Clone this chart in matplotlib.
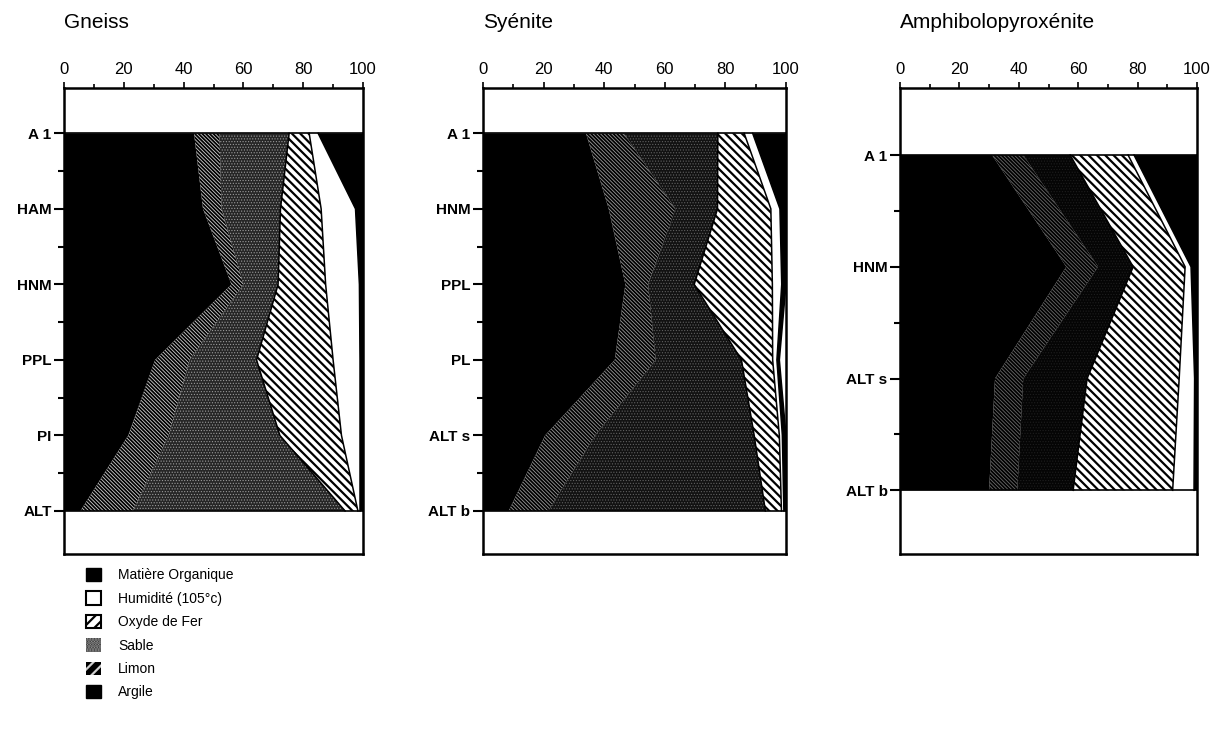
import numpy as np
import matplotlib
matplotlib.use("Agg")
import matplotlib.pyplot as plt
import matplotlib.patches as mpatches
from matplotlib.ticker import MultipleLocator, FixedLocator

plt.rcParams['font.family'] = ['Liberation Sans', 'DejaVu Sans']
plt.rcParams['hatch.linewidth'] = 1.6

# Gneiss profile (% of each fraction, top to bottom)
gneiss_horizons = ["A 1", "HAM", "HNM", "PPL", "PI", "ALT"]
gneiss_argile = [43.5, 46.5, 56.0, 30.5, 21.5, 5.5]
gneiss_limon = [8.5, 6.2, 4.0, 11.5, 13.5, 17.5]
gneiss_sable = [23.3, 19.7, 11.6, 22.4, 37.2, 71.0]
gneiss_oxyde = [6.7, 13.6, 15.9, 25.6, 20.6, 4.3]
gneiss_humidite = [3.0, 11.5, 11.3, 9.0, 6.2, 0.7]
gneiss_mo = [15.0, 2.5, 1.2, 1.0, 1.0, 1.0]

# Syenite profile
syenite_horizons = ["A 1", "HNM", "PPL", "PL", "ALT s", "ALT b"]
syenite_argile = [34.0, 41.5, 47.0, 43.5, 20.5, 8.5]
syenite_limon = [12.5, 22.0, 7.5, 13.5, 16.5, 13.0]
syenite_sable = [31.0, 13.9, 15.2, 28.3, 52.5, 71.7]
syenite_oxyde = [8.7, 17.6, 25.8, 10.3, 8.3, 5.3]
syenite_humidite = [2.8, 3.0, 3.1, 1.4, 1.0, 0.8]
syenite_mo = [11.0, 2.0, 1.4, 0.8, 1.2, 0.7]

# Amphibolopyroxenite profile
amphi_horizons = ["A 1", "HNM", "ALT s", "ALT b"]
amphi_argile = [31.0, 56.0, 32.0, 30.0]
amphi_limon = [10.5, 10.7, 9.5, 9.5]
amphi_sable = [15.8, 11.8, 21.5, 18.8]
amphi_oxyde = [19.5, 17.5, 31.0, 33.5]
amphi_humidite = [2.0, 2.0, 5.2, 7.2]
amphi_mo = [21.2, 2.0, 0.8, 1.0]

profiles = [
    ("Gneiss", gneiss_horizons,
     [gneiss_argile, gneiss_limon, gneiss_sable, gneiss_oxyde, gneiss_humidite, gneiss_mo]),
    ("Syénite", syenite_horizons,
     [syenite_argile, syenite_limon, syenite_sable, syenite_oxyde, syenite_humidite, syenite_mo]),
    ("Amphibolopyroxénite", amphi_horizons,
     [amphi_argile, amphi_limon, amphi_sable, amphi_oxyde, amphi_humidite, amphi_mo]),
]

# how dark the sand stipple / silt lines print in each panel
sable_face = ["#262626", "#121212", "#050505"]
sable_dots = ["#9a9a9a", "#606060", "#1e1e1e"]
limon_lines = ["#d0d0d0", "#9a9a9a", "#6a6a6a"]


def thin_hatch(coll, lw):
    if hasattr(coll, "set_hatch_linewidth"):
        coll.set_hatch_linewidth(lw)


W, H = 1227, 740
fig = plt.figure(figsize=(W / 100, H / 100), dpi=100)

lefts = [64, 483, 900]
widths = [299, 303, 297]
top_px, bot_px = 88, 554

for i, (title, horizons, comps) in enumerate(profiles):
    ax = fig.add_axes([lefts[i] / W, 1 - bot_px / H, widths[i] / W, (bot_px - top_px) / H])
    depth = np.arange(len(horizons))
    cum = np.cumsum(np.array(comps), axis=0)
    lower = np.zeros(len(horizons))

    # argile
    ax.fill_betweenx(depth, lower, cum[0], facecolor="black", linewidth=0)
    # limon: thin light lines on black
    c = ax.fill_betweenx(depth, cum[0], cum[1], facecolor="black", edgecolor=limon_lines[i],
                         hatch="\\" * 9, linewidth=0)
    thin_hatch(c, 0.6)
    # sable: stipple
    c = ax.fill_betweenx(depth, cum[1], cum[2], facecolor=sable_face[i], edgecolor=sable_dots[i],
                         hatch="." * 6, linewidth=0)
    thin_hatch(c, 0.5)
    # oxyde de fer: bold stripes
    c = ax.fill_betweenx(depth, cum[2], cum[3], facecolor="white", edgecolor="black",
                         hatch="\\" * 4, linewidth=0)
    thin_hatch(c, 1.6)
    # humidite: white
    ax.fill_betweenx(depth, cum[3], cum[4], facecolor="white", linewidth=0)
    # matiere organique: black
    ax.fill_betweenx(depth, cum[4], cum[5], facecolor="black", linewidth=0)

    for k in (2, 3, 4, 5):
        ax.plot(cum[k], depth, color="black", lw=1.1)
    ax.plot([0, 100], [depth[0], depth[0]], color="black", lw=1.2)
    ax.plot([0, 100], [depth[-1], depth[-1]], color="black", lw=1.2)

    ax.set_xlim(0, 100)
    ax.set_ylim(len(horizons) - 1 + 0.57, -0.6)

    ax.xaxis.tick_top()
    ax.xaxis.set_major_locator(MultipleLocator(20))
    ax.xaxis.set_minor_locator(FixedLocator([10, 30, 50, 70, 90]))
    ax.tick_params(axis="x", which="major", direction="out", length=4, width=1.2,
                   labelsize=12, pad=4)
    ax.tick_params(axis="x", which="minor", direction="out", length=3, width=1.2)

    ax.set_yticks(depth)
    ax.set_yticklabels(horizons, fontweight="bold")
    ax.yaxis.set_minor_locator(FixedLocator(depth[:-1] + 0.5))
    ax.tick_params(axis="y", which="major", direction="out", length=7, width=1.5,
                   labelsize=11, pad=2)
    ax.tick_params(axis="y", which="minor", direction="out", length=4, width=1.5)

    for s in ax.spines.values():
        s.set_linewidth(1.8)

    fig.text(lefts[i] / W, 1 - 22 / H, title, fontsize=15, ha="left", va="center")

handles = [
    mpatches.Patch(facecolor="black", edgecolor="black", label="Matière Organique"),
    mpatches.Patch(facecolor="white", edgecolor="black", lw=1.5, label="Humidité (105°c)"),
    mpatches.Patch(facecolor="white", edgecolor="black", hatch="///", lw=1.5, label="Oxyde de Fer"),
    mpatches.Patch(facecolor="#262626", edgecolor="#9a9a9a", hatch="......", lw=0, label="Sable"),
    mpatches.Patch(facecolor="black", edgecolor="#d0d0d0", hatch="///", lw=0, label="Limon"),
    mpatches.Patch(facecolor="black", edgecolor="black", label="Argile"),
]
leg = fig.legend(handles=handles, loc="upper left", bbox_to_anchor=(86 / W, 1 - 568 / H),
                 frameon=False, fontsize=10, handlelength=1.1, handleheight=1.1,
                 handletextpad=1.2, labelspacing=0.65, borderaxespad=0, borderpad=0)

fig.savefig("out.png", dpi=100)
